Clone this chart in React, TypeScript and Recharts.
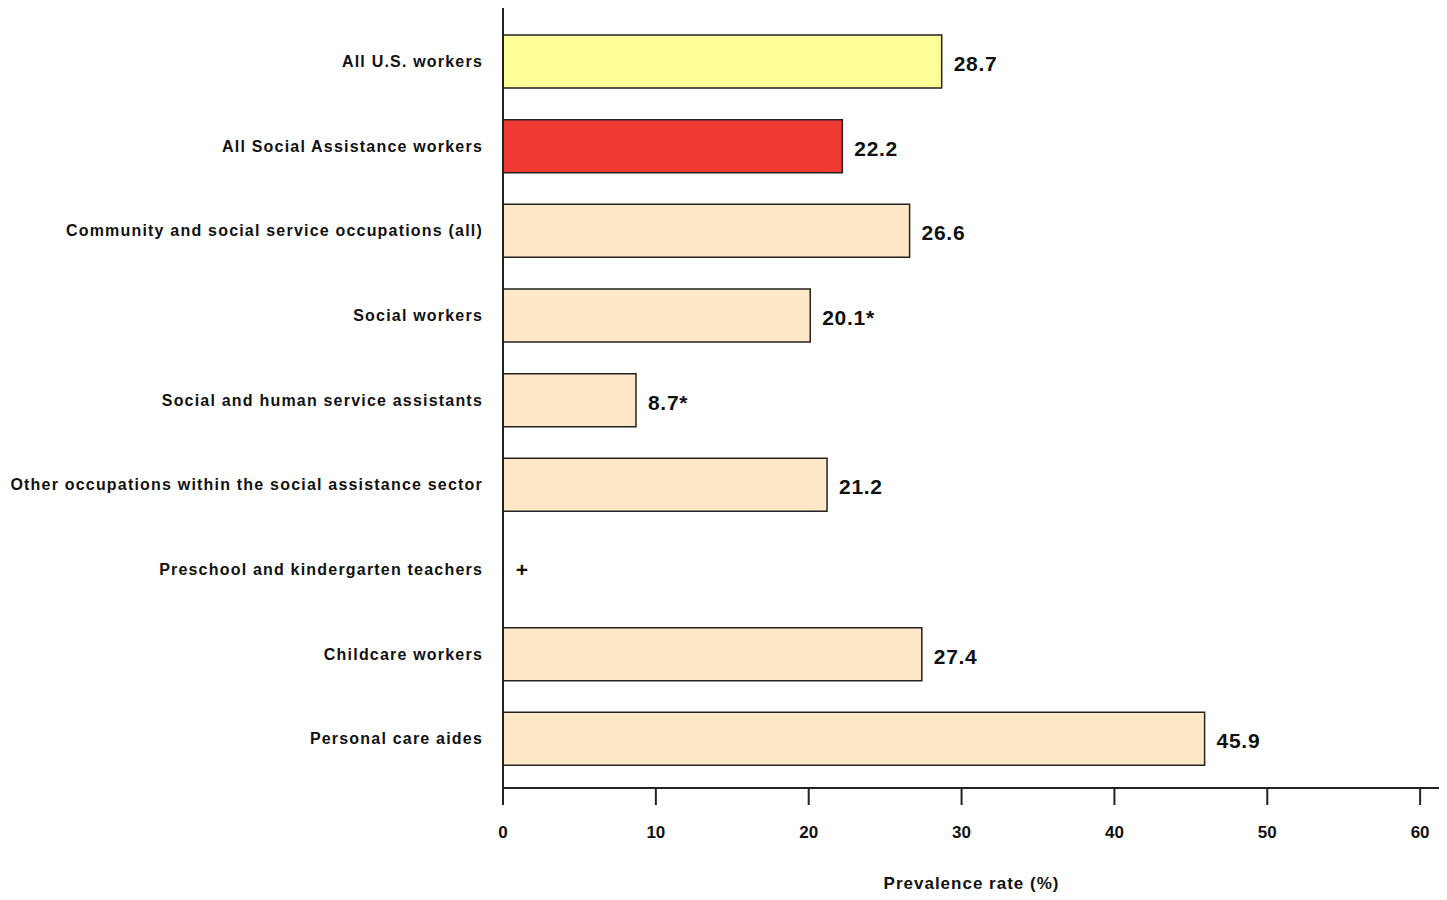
import React from "react";
import { Bar, BarChart, Cell, LabelList, ReferenceDot, XAxis, YAxis } from "recharts";

const occupations = [
  "All U.S. workers",
  "All Social Assistance workers",
  "Community and social service occupations (all)",
  "Social workers",
  "Social and human service assistants",
  "Other occupations within the social assistance sector",
  "Preschool and kindergarten teachers",
  "Childcare workers",
  "Personal care aides",
];

// null = estimate not shown (marked with "+")
const prevalence = [28.7, 22.2, 26.6, 20.1, 8.7, 21.2, null, 27.4, 45.9];
const valueLabels = ["28.7", "22.2", "26.6", "20.1*", "8.7*", "21.2", "+", "27.4", "45.9"];
const barColors = [
  "#FFFF99",
  "#EF3A33",
  "#FFE8C8",
  "#FFE8C8",
  "#FFE8C8",
  "#FFE8C8",
  "#FFE8C8",
  "#FFE8C8",
  "#FFE8C8",
];
const xTicks = [0, 10, 20, 30, 40, 50, 60];

const data = occupations.map((name, i) => ({
  name,
  rate: prevalence[i],
  label: valueLabels[i],
}));

const font = "Arial, 'Liberation Sans', sans-serif";

const ValueLabel = (props: any) => {
  const { x, y, width, height, value } = props;
  return (
    <text
      x={Number(x) + Number(width) + 12}
      y={Number(y) + Number(height) / 2 + 4}
      dominantBaseline="middle"
      fontFamily={font}
      fontWeight="bold"
      fontSize={21}
      letterSpacing={0.7}
      fill="#111"
    >
      {value}
    </text>
  );
};

// marker for rows whose estimate is not shown
const MissingMark = (label: string) => (props: any) => (
  <text
    x={Number(props.cx) + 19}
    y={Number(props.cy) + 2}
    textAnchor="middle"
    dominantBaseline="middle"
    fontFamily={font}
    fontWeight="bold"
    fontSize={21}
    fill="#111"
  >
    {label}
  </text>
);

const App = () => {
  return (
    <div style={{ width: 1436, height: 884 }}>
      <BarChart
        width={1436}
        height={884}
        data={data}
        layout="vertical"
        margin={{ top: 0, right: 4, bottom: 0, left: 0 }}
      >
        <XAxis
          type="number"
          domain={[0, 61.3]}
          ticks={xTicks}
          allowDataOverflow
          height={104}
          tickSize={17}
          tickMargin={21}
          stroke="#222"
          strokeWidth={2}
          tick={{ fontFamily: font, fontWeight: "bold", fontSize: 17, fill: "#111" }}
          label={{
            value: "Prevalence rate (%)",
            position: "insideBottom",
            offset: 3,
            style: {
              fontFamily: font,
              fontWeight: "bold",
              fontSize: 17,
              letterSpacing: 1,
              fill: "#111",
            },
          }}
        />
        <YAxis
          type="category"
          dataKey="name"
          width={495}
          tickLine={false}
          tickMargin={14}
          padding={{ top: 11, bottom: 7 }}
          stroke="#222"
          strokeWidth={2}
          tick={{
            fontFamily: font,
            fontWeight: "bold",
            fontSize: 16,
            letterSpacing: 1.2,
            fill: "#111",
          }}
          interval={0}
        />
        <Bar dataKey="rate" barSize={53} stroke="#222" strokeWidth={1.5} isAnimationActive={false}>
          {data.map((d, i) => (
            <Cell key={d.name} fill={barColors[i]} />
          ))}
          <LabelList dataKey="label" content={<ValueLabel />} />
        </Bar>
        {data
          .filter((d) => d.rate == null)
          .map((d) => (
            <ReferenceDot key={d.name} x={0} y={d.name} r={0} shape={MissingMark(d.label)} />
          ))}
      </BarChart>
    </div>
  );
};

export default App;
